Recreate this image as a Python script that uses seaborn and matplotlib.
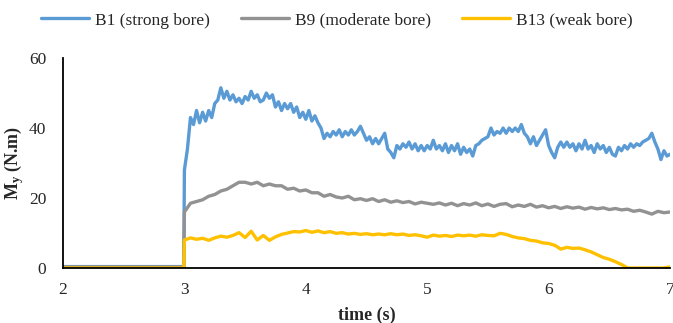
"""Bending moment M_y over time for three bore strengths."""

import matplotlib.pyplot as plt
import numpy as np
import pandas as pd
import seaborn as sns

sns.set_theme(style="white")
plt.rcParams["font.family"] = ["Liberation Serif", "DejaVu Serif"]
plt.rcParams["mathtext.fontset"] = "custom"
plt.rcParams["mathtext.rm"] = "Liberation Serif"
plt.rcParams["mathtext.bf"] = "Liberation Serif:bold"
plt.rcParams["mathtext.it"] = "Liberation Serif:italic"

series_names = ["B1 (strong bore)", "B9 (moderate bore)", "B13 (weak bore)"]
series_colors = ["#5B9BD5", "#929292", "#FFC000"]

# before the bore arrives everything sits at ~0
pre_time = [2.0, 2.5, 2.995]
pre_b1 = [0.4, 0.4, 0.4]
pre_b9 = [0.3, 0.3, 0.3]
pre_b13 = [0.0, 0.0, 0.0]

# B1 sampled every 0.025 s from 3.0 s to 7.0 s
b1_step = 0.025
b1_values = [
    28, 34, 43, 41, 45, 41.5, 44.5, 42, 45, 43,
    47, 48, 51.5, 48.5, 50.5, 48, 49.5, 47.5, 48.5, 47,
    49, 48, 50.5, 48.5, 49.5, 47.5, 48, 50, 48.5, 49.5,
    46, 47.5, 45, 47, 45.5, 47, 44.5, 46, 43, 44.5,
    42.5, 45, 42, 43.5, 41.5, 40, 37, 38.5, 37.5, 39,
    38, 39.5, 37.5, 39, 38, 39.5, 38, 39, 40.5, 38.5,
    36.5, 37.5, 35.5, 37, 35.5, 37, 38.5, 34, 33, 31.5,
    35, 34, 35.5, 34.5, 36, 34, 35.5, 33.5, 35, 33.5,
    35, 34, 36.5, 34, 35, 33.5, 35.5, 33, 35, 33.5,
    35.5, 32.5, 34.5, 33, 34, 32, 35, 35.5, 36.5, 37,
    37.5, 40, 38, 39, 38.5, 40, 38.5, 40, 39, 40,
    39, 41, 38.5, 37.5, 35.5, 37.5, 35, 36.5, 38, 39.5,
    35, 33, 31.5, 34.5, 36, 34.5, 36, 34.5, 35.5, 33.5,
    35.5, 34, 36.5, 34, 35, 33, 35.5, 34, 35, 33,
    34.5, 32.5, 32, 34.5, 33.5, 35, 34, 35.5, 34.5, 35.5,
    35, 36, 36.5, 37, 38.5, 36, 34, 31, 33.5, 32,
    32.5,
]

# B9 and B13 sampled every 0.05 s from 3.0 s to 7.0 s
b9_step = 0.05
b9_values = [
    16, 18.5, 19, 19.5, 20.5, 21, 22, 22.5, 23.5, 24.5,
    24.5, 24, 24.5, 23.5, 24, 23.5, 23.5, 22.5, 22.8, 22,
    22.3, 21.5, 21.5, 20.5, 21, 20.3, 20, 20.5, 19.5, 19.8,
    19.3, 19.8, 19, 19.5, 18.8, 19.2, 18.7, 19, 18.3, 18.8,
    18.5, 18.2, 18.6, 18, 18.5, 17.8, 18.4, 18, 18.6, 17.8,
    18.3, 17.6, 18.2, 18.4, 17.5, 18, 17.6, 18.2, 17.4, 17.8,
    17.2, 17.6, 17, 17.5, 17.1, 17.4, 16.8, 17.3, 16.9, 17.2,
    16.7, 17, 16.6, 16.8, 16.2, 16.5, 16.0, 15.4, 16.2, 15.8,
    16,
]
b13_values = [
    8, 8.6, 8.2, 8.5, 7.9, 8.6, 9.1, 8.8, 9.3, 10.1,
    8.7, 10.5, 8.0, 9.3, 7.9, 8.9, 9.6, 10.0, 10.4, 10.3,
    10.7, 10.2, 10.6, 10.1, 10.4, 9.9, 10.1, 9.7, 9.9, 9.6,
    9.8, 9.5, 9.7, 9.5, 9.8, 9.5, 9.7, 9.3, 9.5, 9.2,
    8.8, 9.4, 9.1, 9.3, 9.0, 9.4, 9.2, 9.4, 9.1, 9.5,
    9.3, 9.2, 9.9, 9.6, 9.0, 8.6, 8.4, 7.9, 7.7, 7.2,
    7.0, 6.5, 5.4, 5.9, 5.6, 5.7, 5.2, 4.6, 3.8, 3.0,
    2.5, 1.8, 1.0, 0.0, 0.0, 0.0, 0.0, 0.0, 0.0, 0.0,
    0.3,
]

x_ticks = [2, 3, 4, 5, 6, 7]
y_ticks = [0, 20, 40, 60]


def build_frame():
    frames = []
    for name, pre, values, step in [
        (series_names[0], pre_b1, b1_values, b1_step),
        (series_names[1], pre_b9, b9_values, b9_step),
        (series_names[2], pre_b13, b13_values, b9_step),
    ]:
        time = 3.0 + step * np.arange(len(values))
        frames.append(pd.DataFrame({
            "time": list(pre_time) + list(time),
            "My": list(pre) + list(values),
            "series": name,
        }))
    return pd.concat(frames, ignore_index=True)


data = build_frame()

figure = plt.figure(figsize=(6.73, 3.23), dpi=100)
axis = figure.add_axes([0.0936, 0.1703, 0.902, 0.650])
sns.lineplot(
    data=data,
    x="time",
    y="My",
    hue="series",
    hue_order=series_names,
    palette=series_colors,
    linewidth=2.4,
    estimator=None,
    sort=False,
    ax=axis,
)

axis.set_xlim(2, 7)
axis.set_ylim(0, 60)
axis.set_xticks(x_ticks)
axis.set_yticks(y_ticks)
axis.tick_params(axis="both", length=0, labelsize=12.5, colors="#262626")
axis.tick_params(axis="x", pad=10)
axis.tick_params(axis="y", pad=12)
for side in ("top", "right"):
    axis.spines[side].set_visible(False)
for side in ("left", "bottom"):
    axis.spines[side].set_color("black")
    axis.spines[side].set_linewidth(1.3)

axis.set_xlabel("time (s)", fontsize=13, fontweight="bold", labelpad=6)
axis.set_ylabel(r"$\mathbf{M_y}$ (N.m)", fontsize=13, fontweight="bold", labelpad=2)

handles, labels = axis.get_legend_handles_labels()
axis.legend(
    handles,
    labels,
    loc="upper center",
    bbox_to_anchor=(0.5, 1.01),
    bbox_transform=figure.transFigure,
    ncol=3,
    frameon=False,
    fontsize=12.5,
    handlelength=2.8,
    columnspacing=1.8,
    handletextpad=0.3,
)

figure.savefig("out.png", dpi=100)
plt.close(figure)
